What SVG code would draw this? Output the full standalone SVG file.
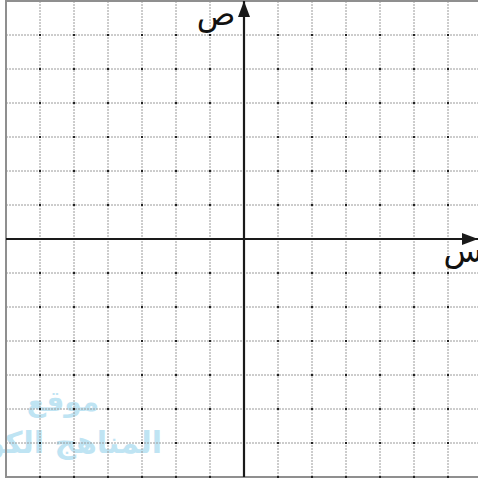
<svg xmlns="http://www.w3.org/2000/svg" width="478" height="483" viewBox="0 0 478 483">
<style>
.wm{font-family:"DejaVu Sans",sans-serif;font-weight:bold;fill:#bfe4f3}
.grid line{stroke:#9a9a9a;stroke-width:1;stroke-dasharray:2,1}
.border{stroke:#8f8f8f;stroke-width:2;fill:none}
.axis{stroke:#1a1a1a;stroke-width:2.2}
.lbl{font-family:"DejaVu Sans",sans-serif;font-size:32px;fill:#111}
.dot{fill:#222}
</style>
<defs>
<marker id="ah" viewBox="0 0 16 12" refX="16" refY="6" markerWidth="16" markerHeight="12" markerUnits="userSpaceOnUse" orient="auto">
<path d="M0,0 L16,6 L0,12 Z" fill="#1a1a1a"/>
</marker>
</defs>
<rect width="478" height="483" fill="#fff"/>
<g id="watermark">
<text class="wm" x="63" y="411" font-size="28" text-anchor="middle" direction="rtl">موقع</text>
<text class="wm" x="162" y="453" font-size="30" text-anchor="start" direction="rtl">المناهج الكويتية</text>
</g>
<g id="grid" class="grid">
<line x1="40" y1="1" x2="40" y2="477"/>
<line x1="74" y1="1" x2="74" y2="477"/>
<line x1="108" y1="1" x2="108" y2="477"/>
<line x1="142" y1="1" x2="142" y2="477"/>
<line x1="176" y1="1" x2="176" y2="477"/>
<line x1="210" y1="1" x2="210" y2="477"/>
<line x1="278" y1="1" x2="278" y2="477"/>
<line x1="312" y1="1" x2="312" y2="477"/>
<line x1="346" y1="1" x2="346" y2="477"/>
<line x1="380" y1="1" x2="380" y2="477"/>
<line x1="414" y1="1" x2="414" y2="477"/>
<line x1="448" y1="1" x2="448" y2="477"/>
<line x1="6" y1="35" x2="478" y2="35"/>
<line x1="6" y1="69" x2="478" y2="69"/>
<line x1="6" y1="103" x2="478" y2="103"/>
<line x1="6" y1="137" x2="478" y2="137"/>
<line x1="6" y1="171" x2="478" y2="171"/>
<line x1="6" y1="205" x2="478" y2="205"/>
<line x1="6" y1="273" x2="478" y2="273"/>
<line x1="6" y1="307" x2="478" y2="307"/>
<line x1="6" y1="341" x2="478" y2="341"/>
<line x1="6" y1="375" x2="478" y2="375"/>
<line x1="6" y1="409" x2="478" y2="409"/>
<line x1="6" y1="443" x2="478" y2="443"/>
</g>
<g id="frame">
<path class="border" d="M478,1 H6 V477 H478"/>
</g>
<g id="dots" class="dot">
<path d="M39,34h2v2h-2zM73,34h2v2h-2zM107,34h2v2h-2zM141,34h2v2h-2zM175,34h2v2h-2zM209,34h2v2h-2zM277,34h2v2h-2zM311,34h2v2h-2zM345,34h2v2h-2zM379,34h2v2h-2zM413,34h2v2h-2zM447,34h2v2h-2z
M39,68h2v2h-2zM73,68h2v2h-2zM107,68h2v2h-2zM141,68h2v2h-2zM175,68h2v2h-2zM209,68h2v2h-2zM277,68h2v2h-2zM311,68h2v2h-2zM345,68h2v2h-2zM379,68h2v2h-2zM413,68h2v2h-2zM447,68h2v2h-2z
M39,102h2v2h-2zM73,102h2v2h-2zM107,102h2v2h-2zM141,102h2v2h-2zM175,102h2v2h-2zM209,102h2v2h-2zM277,102h2v2h-2zM311,102h2v2h-2zM345,102h2v2h-2zM379,102h2v2h-2zM413,102h2v2h-2zM447,102h2v2h-2z
M39,136h2v2h-2zM73,136h2v2h-2zM107,136h2v2h-2zM141,136h2v2h-2zM175,136h2v2h-2zM209,136h2v2h-2zM277,136h2v2h-2zM311,136h2v2h-2zM345,136h2v2h-2zM379,136h2v2h-2zM413,136h2v2h-2zM447,136h2v2h-2z
M39,170h2v2h-2zM73,170h2v2h-2zM107,170h2v2h-2zM141,170h2v2h-2zM175,170h2v2h-2zM209,170h2v2h-2zM277,170h2v2h-2zM311,170h2v2h-2zM345,170h2v2h-2zM379,170h2v2h-2zM413,170h2v2h-2zM447,170h2v2h-2z
M39,204h2v2h-2zM73,204h2v2h-2zM107,204h2v2h-2zM141,204h2v2h-2zM175,204h2v2h-2zM209,204h2v2h-2zM277,204h2v2h-2zM311,204h2v2h-2zM345,204h2v2h-2zM379,204h2v2h-2zM413,204h2v2h-2zM447,204h2v2h-2z
M39,272h2v2h-2zM73,272h2v2h-2zM107,272h2v2h-2zM141,272h2v2h-2zM175,272h2v2h-2zM209,272h2v2h-2zM277,272h2v2h-2zM311,272h2v2h-2zM345,272h2v2h-2zM379,272h2v2h-2zM413,272h2v2h-2zM447,272h2v2h-2z
M39,306h2v2h-2zM73,306h2v2h-2zM107,306h2v2h-2zM141,306h2v2h-2zM175,306h2v2h-2zM209,306h2v2h-2zM277,306h2v2h-2zM311,306h2v2h-2zM345,306h2v2h-2zM379,306h2v2h-2zM413,306h2v2h-2zM447,306h2v2h-2z
M39,340h2v2h-2zM73,340h2v2h-2zM107,340h2v2h-2zM141,340h2v2h-2zM175,340h2v2h-2zM209,340h2v2h-2zM277,340h2v2h-2zM311,340h2v2h-2zM345,340h2v2h-2zM379,340h2v2h-2zM413,340h2v2h-2zM447,340h2v2h-2z
M39,374h2v2h-2zM73,374h2v2h-2zM107,374h2v2h-2zM141,374h2v2h-2zM175,374h2v2h-2zM209,374h2v2h-2zM277,374h2v2h-2zM311,374h2v2h-2zM345,374h2v2h-2zM379,374h2v2h-2zM413,374h2v2h-2zM447,374h2v2h-2z
M39,408h2v2h-2zM73,408h2v2h-2zM107,408h2v2h-2zM141,408h2v2h-2zM175,408h2v2h-2zM209,408h2v2h-2zM277,408h2v2h-2zM311,408h2v2h-2zM345,408h2v2h-2zM379,408h2v2h-2zM413,408h2v2h-2zM447,408h2v2h-2z
M39,442h2v2h-2zM73,442h2v2h-2zM107,442h2v2h-2zM141,442h2v2h-2zM175,442h2v2h-2zM209,442h2v2h-2zM277,442h2v2h-2zM311,442h2v2h-2zM345,442h2v2h-2zM379,442h2v2h-2zM413,442h2v2h-2zM447,442h2v2h-2z
M39,476h2v2h-2zM73,476h2v2h-2zM107,476h2v2h-2zM141,476h2v2h-2zM175,476h2v2h-2zM209,476h2v2h-2zM277,476h2v2h-2zM311,476h2v2h-2zM345,476h2v2h-2zM379,476h2v2h-2zM413,476h2v2h-2zM447,476h2v2h-2z"/>
</g>
<g id="connectors">
<line class="axis" x1="6" y1="239" x2="478" y2="239" marker-end="url(#ah)"/>
<line class="axis" x1="244" y1="477" x2="244" y2="1" marker-end="url(#ah)"/>
</g>
<g id="label-y">
<text class="lbl" x="216" y="25" text-anchor="middle">ص</text>
</g>
<g id="label-x">
<text class="lbl" x="463" y="262" text-anchor="middle">س</text>
</g>
</svg>
